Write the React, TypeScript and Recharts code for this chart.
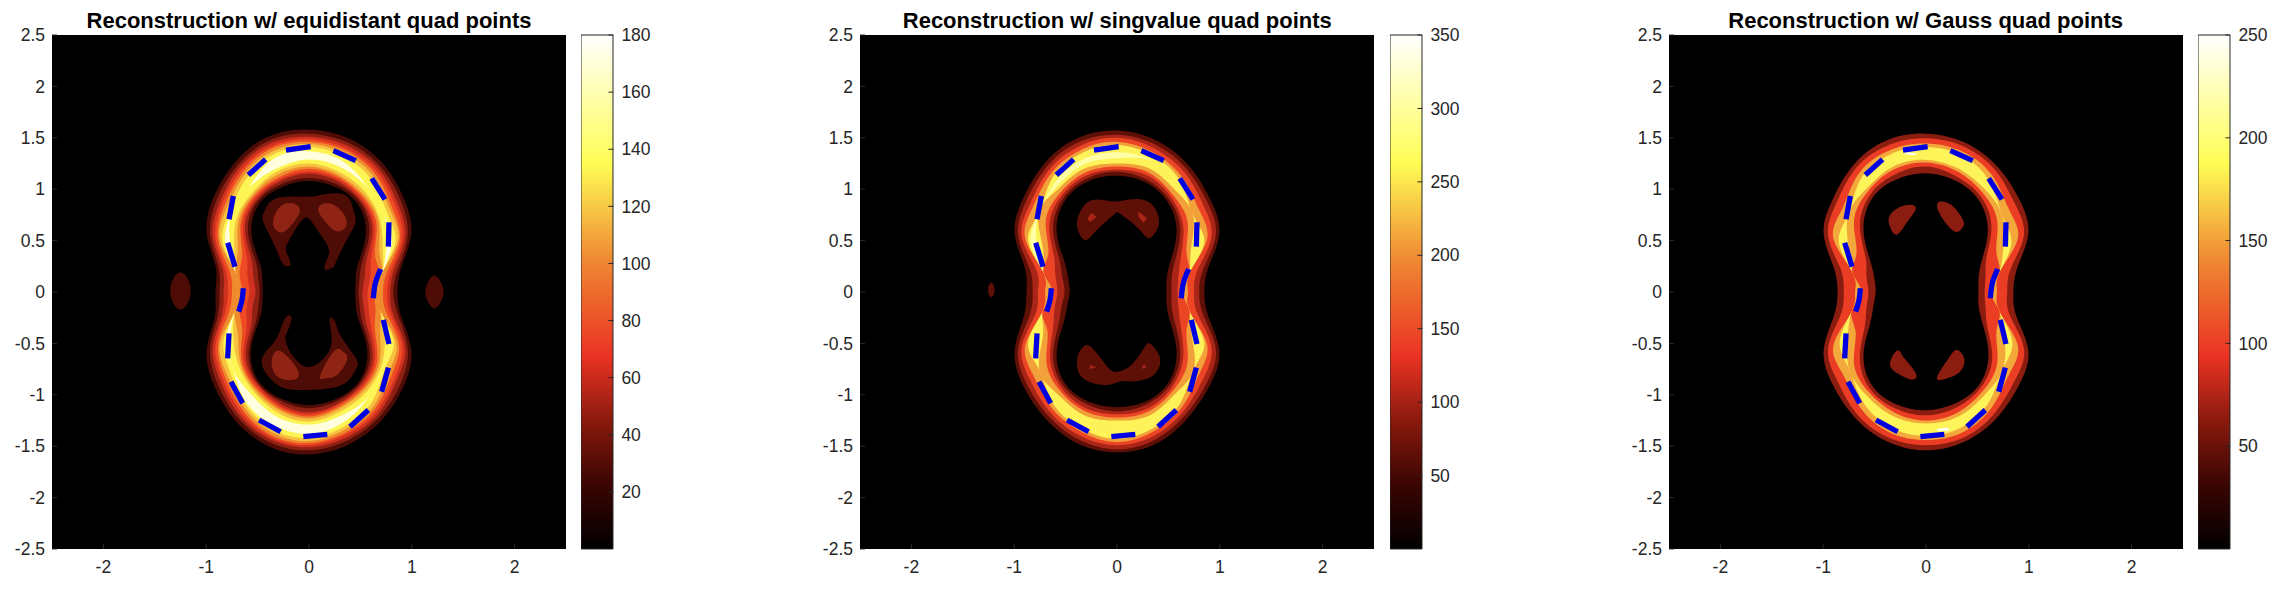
import React from 'react';
import { BarChart, Bar, CartesianGrid, ScatterChart, Scatter, XAxis, YAxis } from 'recharts';

// Contours are read off the picture as radii along rays from the origin, one
// row per ray (0, 15, 30 ... 345 degrees), one column per contour level.
const equiOuter = [
  [.86,.82,.79,.76,.72,.67,.67,.67],
  [.93,.90,.86,.83,.79,.74,.74,.74],
  [1.15,1.11,1.08,1.05,1.02,1.00,.97,.93],
  [1.30,1.26,1.22,1.19,1.15,1.12,1.08,1.04],
  [1.44,1.40,1.37,1.34,1.31,1.28,1.24,1.16],
  [1.54,1.50,1.47,1.44,1.42,1.39,1.36,1.31],
  [1.58,1.54,1.51,1.485,1.46,1.44,1.41,1.37],
  [1.56,1.52,1.49,1.46,1.44,1.41,1.38,1.34],
  [1.45,1.41,1.38,1.35,1.32,1.29,1.25,1.17],
  [1.31,1.27,1.23,1.20,1.17,1.14,1.10,1.07],
  [1.15,1.11,1.08,1.05,1.02,1.00,.97,.94],
  [.94,.91,.87,.84,.80,.74,.74,.74],
  [.91,.87,.83,.79,.75,.69,.69,.69],
  [.95,.92,.88,.85,.81,.75,.75,.75],
  [1.15,1.11,1.08,1.05,1.02,1.00,.96,.93],
  [1.30,1.26,1.22,1.19,1.16,1.13,1.09,1.05],
  [1.44,1.40,1.37,1.34,1.31,1.28,1.25,1.23],
  [1.55,1.51,1.48,1.46,1.44,1.41,1.38,1.34],
  [1.58,1.54,1.51,1.49,1.47,1.45,1.42,1.38],
  [1.53,1.49,1.46,1.43,1.41,1.38,1.35,1.31],
  [1.43,1.39,1.36,1.33,1.30,1.27,1.23,1.17],
  [1.30,1.26,1.21,1.18,1.14,1.10,1.05,1.03],
  [1.15,1.11,1.08,1.05,1.01,.98,.95,.90],
  [.93,.90,.85,.82,.78,.72,.72,.72],
];
const equiInner = [
  [.45,.48,.52,.57,.64,.67,.67,.67],
  [.47,.51,.56,.62,.71,.74,.74,.74],
  [.55,.60,.65,.70,.74,.79,.83,.87],
  [.78,.83,.87,.90,.93,.96,.98,1.04],
  [.97,1.00,1.02,1.04,1.06,1.08,1.11,1.16],
  [1.05,1.08,1.11,1.13,1.15,1.17,1.20,1.25],
  [1.08,1.11,1.15,1.17,1.20,1.22,1.25,1.29],
  [1.05,1.08,1.11,1.13,1.15,1.18,1.21,1.24],
  [.98,1.01,1.03,1.05,1.07,1.09,1.11,1.17],
  [.79,.84,.88,.91,.94,.97,1.00,1.07],
  [.55,.60,.65,.70,.75,.80,.84,.88],
  [.47,.51,.56,.62,.70,.74,.74,.74],
  [.45,.48,.52,.58,.65,.69,.69,.69],
  [.47,.51,.57,.63,.70,.75,.75,.75],
  [.56,.60,.65,.70,.75,.80,.85,.89],
  [.80,.83,.87,.90,.93,.95,.98,1.05],
  [.99,1.01,1.02,1.04,1.06,1.08,1.10,1.14],
  [1.07,1.09,1.12,1.14,1.16,1.18,1.21,1.25],
  [1.10,1.13,1.17,1.19,1.21,1.23,1.26,1.29],
  [1.07,1.09,1.12,1.13,1.15,1.17,1.20,1.24],
  [.99,1.01,1.03,1.05,1.07,1.09,1.12,1.17],
  [.80,.84,.88,.91,.94,.97,1.00,1.03],
  [.56,.60,.65,.70,.74,.80,.85,.90],
  [.47,.51,.55,.60,.67,.72,.72,.72],
];
const singOuter = [
  [.85,.80,.75,.69,.66,.66],
  [.92,.87,.81,.73,.73,.73],
  [1.15,1.11,1.06,1.01,.98,.93],
  [1.28,1.24,1.19,1.13,1.05,1.05],
  [1.41,1.37,1.33,1.28,1.24,1.18],
  [1.52,1.48,1.44,1.40,1.37,1.32],
  [1.57,1.53,1.50,1.46,1.43,1.36],
  [1.54,1.50,1.46,1.42,1.39,1.33],
  [1.43,1.39,1.35,1.31,1.27,1.22],
  [1.29,1.25,1.20,1.16,1.08,1.08],
  [1.15,1.11,1.07,1.03,1.00,.97],
  [.93,.88,.81,.74,.74,.74],
  [.88,.82,.77,.70,.66,.66],
  [.94,.88,.82,.75,.75,.75],
  [1.15,1.11,1.07,1.03,1.00,.93],
  [1.29,1.25,1.20,1.15,1.07,1.07],
  [1.41,1.37,1.33,1.29,1.25,1.19],
  [1.52,1.48,1.44,1.40,1.37,1.31],
  [1.56,1.53,1.49,1.46,1.43,1.33],
  [1.52,1.48,1.44,1.40,1.37,1.31],
  [1.40,1.36,1.32,1.28,1.24,1.18],
  [1.28,1.24,1.19,1.13,1.06,1.06],
  [1.15,1.11,1.06,1.01,.98,.93],
  [.92,.87,.81,.73,.73,.73],
];
const singInner = [
  [.48,.53,.59,.64,.66,.66],
  [.50,.55,.62,.73,.73,.73],
  [.60,.66,.72,.78,.83,.93],
  [.82,.87,.91,.97,1.05,1.05],
  [1.00,1.03,1.06,1.09,1.14,1.18],
  [1.10,1.13,1.17,1.20,1.24,1.32],
  [1.13,1.17,1.19,1.22,1.25,1.30],
  [1.11,1.14,1.17,1.20,1.24,1.28],
  [1.02,1.05,1.08,1.11,1.15,1.18],
  [.83,.88,.93,.98,1.08,1.08],
  [.59,.65,.71,.77,.83,.90],
  [.49,.55,.62,.74,.74,.74],
  [.46,.51,.58,.63,.66,.66],
  [.50,.56,.63,.75,.75,.75],
  [.60,.66,.72,.78,.83,.93],
  [.83,.88,.92,.97,1.07,1.07],
  [1.02,1.05,1.08,1.11,1.15,1.19],
  [1.10,1.13,1.17,1.20,1.24,1.31],
  [1.12,1.16,1.19,1.22,1.25,1.33],
  [1.10,1.13,1.17,1.20,1.24,1.31],
  [1.01,1.04,1.07,1.10,1.14,1.18],
  [.82,.87,.91,.97,1.06,1.06],
  [.60,.66,.72,.78,.84,.93],
  [.50,.55,.62,.73,.73,.73],
];
const gaussOuter = [
  [.85,.79,.69,.66],
  [.92,.85,.74,.74],
  [1.15,1.10,1.03,.96],
  [1.28,1.22,1.14,1.05],
  [1.40,1.36,1.30,1.24],
  [1.50,1.46,1.41,1.37],
  [1.54,1.495,1.445,1.41],
  [1.52,1.47,1.42,1.38],
  [1.42,1.38,1.32,1.27],
  [1.28,1.23,1.15,1.07],
  [1.15,1.10,1.04,.98],
  [.93,.86,.74,.74],
  [.86,.80,.69,.66],
  [.93,.86,.75,.75],
  [1.15,1.10,1.04,.97],
  [1.28,1.22,1.14,1.06],
  [1.40,1.36,1.29,1.23],
  [1.50,1.46,1.41,1.36],
  [1.54,1.49,1.44,1.40],
  [1.50,1.46,1.41,1.36],
  [1.40,1.35,1.29,1.23],
  [1.28,1.22,1.14,1.06],
  [1.15,1.10,1.03,.97],
  [.91,.84,.74,.74],
];
const gaussInner = [
  [.51,.57,.63,.66],
  [.53,.60,.74,.74],
  [.63,.68,.79,.87],
  [.85,.90,.98,1.05],
  [1.03,1.07,1.11,1.15],
  [1.12,1.16,1.21,1.24],
  [1.155,1.22,1.26,1.285],
  [1.13,1.18,1.23,1.26],
  [1.05,1.09,1.13,1.16],
  [.86,.91,.99,1.07],
  [.63,.68,.78,.87],
  [.52,.60,.74,.74],
  [.49,.56,.63,.66],
  [.53,.60,.75,.75],
  [.63,.69,.79,.88],
  [.86,.91,.99,1.06],
  [1.05,1.09,1.12,1.16],
  [1.13,1.17,1.21,1.25],
  [1.15,1.20,1.25,1.28],
  [1.12,1.16,1.21,1.25],
  [1.04,1.07,1.11,1.15],
  [.86,.91,.98,1.06],
  [.64,.69,.79,.88],
  [.53,.60,.74,.74],
];

// Islands inside and outside the ring, as x/y outlines
const equiDark = [
  [[.04,.93],[.33,.95],[.43,.80],[.45,.67],[.37,.51],[.27,.31],[.22,.23],[.15,.23],[.19,.36],[.17,.47],[.07,.62],[-.01,.72],[-.09,.67],[-.20,.49],[-.22,.39],[-.18,.27],[-.25,.27],[-.33,.44],[-.44,.67],[-.44,.77],[-.36,.89],[-.18,.93]],
  [[-.22,-.24],[-.17,-.26],[-.23,-.43],[-.15,-.63],[-.01,-.73],[.14,-.65],[.22,-.48],[.20,-.27],[.25,-.28],[.31,-.43],[.46,-.65],[.45,-.76],[.33,-.90],[.04,-.95],[-.22,-.94],[-.38,-.84],[-.46,-.66],[-.35,-.50],[-.28,-.37]],
  [[-1.25,.19],[-1.32,.13],[-1.35,.01],[-1.32,-.11],[-1.25,-.17],[-1.18,-.11],[-1.15,.01],[-1.18,.13]],
  [[1.22,.16],[1.28,.1],[1.31,0],[1.28,-.1],[1.22,-.16],[1.16,-.1],[1.13,0],[1.16,.1]],
];
const equiMid = [
  [[-.35,.67],[-.28,.83],[-.15,.86],[-.09,.78],[-.18,.64],[-.28,.58]],
  [[.09,.81],[.20,.86],[.33,.77],[.36,.64],[.27,.59],[.17,.67]],
  [[-.36,-.65],[-.30,-.57],[-.18,-.66],[-.10,-.82],[-.25,-.85],[-.35,-.76]],
  [[.11,-.81],[.24,-.58],[.33,-.58],[.37,-.66],[.27,-.81],[.16,-.84]],
];
const singDark = [
  [[0,.88],[.19,.905],[.34,.85],[.41,.68],[.35,.55],[.29,.53],[.19,.635],[.03,.76],[-.035,.75],[-.20,.60],[-.295,.505],[-.36,.555],[-.39,.68],[-.33,.83],[-.20,.90]],
  [[-.295,-.515],[-.21,-.58],[-.085,-.74],[.01,-.775],[.14,-.71],[.26,-.55],[.32,-.50],[.39,-.58],[.42,-.69],[.34,-.82],[.16,-.87],[.03,-.87],[-.115,-.905],[-.33,-.84],[-.39,-.69],[-.365,-.58]],
  [[-1.222,.09],[-1.19,.02],[-1.222,-.05],[-1.255,.02]],
];
const singMid = [
  [[-.25,.77],[-.20,.73],[-.26,.68],[-.29,.71]],
  [[.21,.78],[.29,.72],[.26,.67],[.21,.73]],
  [[-.26,-.71],[-.20,-.735],[-.27,-.75]],
  [[.26,-.70],[.29,-.73],[.24,-.75]],
];
const gaussDark = [
  [[-.22,.84],[-.10,.825],[-.17,.70],[-.28,.56],[-.35,.635],[-.35,.75]],
  [[.11,.86],[.24,.85],[.36,.70],[.35,.62],[.285,.585],[.17,.70]],
  [[-.28,-.57],[-.22,-.635],[-.10,-.79],[-.14,-.85],[-.28,-.79],[-.35,-.69]],
  [[.30,-.565],[.37,-.645],[.33,-.775],[.17,-.85],[.11,-.82],[.22,-.645]],
];
const gaussWhite = [
  [[-.21,1.36],[-.1,1.35],[-.1,1.33],[-.2,1.34]],
  [[.11,-1.33],[.22,-1.32],[.22,-1.35],[.11,-1.35]],
];

// The dashed curve, one short run per dash
const dashes = [
  [[-.224,1.381],[.016,1.414]],
  [[.237,1.375],[.454,1.278]],
  [[.61,1.106],[.739,.901]],
  [[.778,.678],[.772,.441]],
  [[.697,.224],[.649,.101],[.626,-.061]],
  [[.723,-.272],[.778,-.506]],
  [[.772,-.736],[.707,-.97]],
  [[.577,-1.148],[.399,-1.31]],
  [[.178,-1.385],[-.055,-1.407]],
  [[-.276,-1.359],[-.486,-1.245]],
  [[-.645,-1.083],[-.759,-.872]],
  [[-.791,-.645],[-.778,-.402]],
  [[-.684,-.191],[-.652,-.078],[-.639,.036]],
  [[-.72,.246],[-.791,.48]],
  [[-.778,.707],[-.736,.934]],
  [[-.59,1.138],[-.422,1.29]],
];

const xTicks = [-2, -1, 0, 1, 2];
const yTicks = [-2.5, -2, -1.5, -1, -0.5, 0, 0.5, 1, 1.5, 2, 2.5];
const equiBarTicks = [20, 40, 60, 80, 100, 120, 140, 160, 180];
const singBarTicks = [50, 100, 150, 200, 250, 300, 350];
const gaussBarTicks = [50, 100, 150, 200, 250];

const equiColors = ['#4d0c05', '#8f2114', '#d03020', '#ee4a24', '#ef8a2e', '#f6c240', '#fdf553', '#ffffe0'];
const singColors = ['#5e1006', '#a82518', '#ec4526', '#f2a03a', '#fdf257', '#ffffa8'];
const gaussColors = ['#8a1c10', '#ea3d24', '#f3a83b', '#fdf45a'];

const hotStops = [
  [0, '#000000'],
  [12.5, '#3a0502'],
  [25, '#8a1a0e'],
  [37.5, '#ea3323'],
  [56, '#ef8732'],
  [75, '#fffd54'],
  [87.5, '#ffffa8'],
  [100, '#ffffff'],
];

const FONT = '"Liberation Sans", Arial, sans-serif';
const TICK = { fontSize: 17.5, fill: '#262626', fontFamily: FONT };
const NoDot = () => null;

const fromPairs = (pairs: number[][]) => pairs.map(([x, y]) => ({ x, y }));
// natural splines pass through the read points; running past the start closes the loop smoothly
const wrap = <T,>(pts: T[], start: number) => [...pts.slice(start), ...pts.slice(0, start), ...pts.slice(start, start + 3)];
const fromRays = (rows: number[][], level: number) =>
  wrap(
    rows.map((row, i) => ({
      x: row[level] * Math.cos((i * 15 * Math.PI) / 180),
      y: row[level] * Math.sin((i * 15 * Math.PI) / 180),
    })),
    6,
  );

const filled = (key: string, points: { x: number; y: number }[], color: string, joint = 'natural') => (
  <Scatter
    key={key}
    data={points}
    shape={NoDot}
    line={{ fill: color, stroke: 'none' }}
    lineJointType={joint as any}
    isAnimationActive={false}
  />
);

const Panel = ({ title, left, barLeft, barId, barMax, barTicks, outer, inner, colors, islands }: any) => {
  const levels = colors.map((_: string, k: number) => k);
  return (
    <>
      <div
        style={{
          position: 'absolute', left, top: 7.5, width: 514, textAlign: 'center',
          font: `bold 22px ${FONT}`, color: '#000', whiteSpace: 'nowrap',
        }}
      >
        {title}
      </div>
      <div style={{ position: 'absolute', left: left - 52, top: 0 }}>
        <ScatterChart width={576} height={592} margin={{ top: 35, right: 10, bottom: 0, left: 0 }}>
          <CartesianGrid horizontal={false} vertical={false} fill="#000" />
          <XAxis
            type="number" dataKey="x" domain={[-2.5, 2.5]} ticks={xTicks} interval={0} height={43}
            tick={TICK} tickSize={-5} tickMargin={17} stroke="#2a2a2a" axisLine={false}
          />
          <YAxis
            type="number" dataKey="y" domain={[-2.5, 2.5]} ticks={yTicks} interval={0} width={52}
            tick={TICK} tickSize={-5} tickMargin={12} stroke="#2a2a2a" axisLine={false}
          />
          {levels.map((k: number) => filled(`o${k}`, fromRays(outer, k), colors[k]))}
          {[...levels].reverse().map((k: number) => filled(`i${k}`, fromRays(inner, k), k === 0 ? '#000' : colors[k - 1]))}
          {islands.map((isl: any, i: number) => filled(`b${i}`, isl.points, isl.color, isl.joint))}
          {dashes.map((d, i) => (
            <Scatter
              key={`d${i}`}
              data={fromPairs(d)}
              shape={NoDot}
              line={{ stroke: '#0000e0', strokeWidth: 5.3 }}
              lineJointType="monotoneY"
              isAnimationActive={false}
            />
          ))}
        </ScatterChart>
      </div>
      <div style={{ position: 'absolute', left: barLeft, top: 0 }}>
        <BarChart
          width={92.4} height={592} data={[{ name: 'c', range: [0, barMax] }]}
          margin={{ top: 35, right: 0, bottom: 43, left: 0 }} barCategoryGap={0}
        >
          <defs>
            <linearGradient id={barId} x1="0" y1="1" x2="0" y2="0">
              {hotStops.map(([off, c]) => <stop key={off} offset={`${off}%`} stopColor={c as string} />)}
            </linearGradient>
          </defs>
          <XAxis dataKey="name" hide />
          <YAxis
            orientation="right" type="number" domain={[0, barMax]} ticks={barTicks} interval={0} width={60}
            tick={{ ...TICK, textAnchor: 'start' }} tickSize={-5} tickMargin={13} stroke="#262626" axisLine={false}
          />
          <Bar dataKey="range" fill={`url(#${barId})`} stroke="#262626" strokeWidth={1} isAnimationActive={false} />
        </BarChart>
      </div>
    </>
  );
};

const smooth = (list: number[][][], color: string) =>
  list.map((pairs) => ({ points: wrap(fromPairs(pairs), 0), color, joint: 'natural' }));
const sharp = (list: number[][][], color: string) =>
  list.map((pairs) => ({ points: fromPairs(pairs), color, joint: 'linearClosed' }));

export default function App() {
  return (
    <div style={{ position: 'absolute', left: 0, top: 0, width: 2280, height: 592, background: '#fff', overflow: 'hidden' }}>
      <Panel
        title="Reconstruction w/ equidistant quad points" left={52} barLeft={581.3} barId="hotA"
        barMax={180} barTicks={equiBarTicks} outer={equiOuter} inner={equiInner} colors={equiColors}
        islands={[...smooth(equiDark, equiColors[0]), ...smooth(equiMid, '#8f2414')]}
      />
      <Panel
        title="Reconstruction w/ singvalue quad points" left={860.3} barLeft={1390.3} barId="hotB"
        barMax={350} barTicks={singBarTicks} outer={singOuter} inner={singInner} colors={singColors}
        islands={[...smooth(singDark, singColors[0]), ...sharp(singMid, singColors[1])]}
      />
      <Panel
        title="Reconstruction w/ Gauss quad points" left={1668.7} barLeft={2198.3} barId="hotC"
        barMax={250} barTicks={gaussBarTicks} outer={gaussOuter} inner={gaussInner} colors={gaussColors}
        islands={[...smooth(gaussDark, gaussColors[0]), ...sharp(gaussWhite, '#ffffff')]}
      />
    </div>
  );
}
